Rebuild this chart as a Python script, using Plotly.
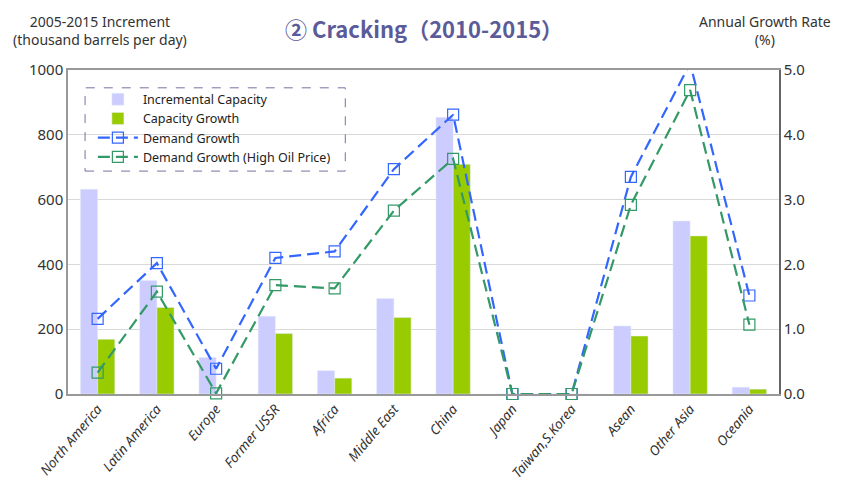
import plotly.graph_objects as go

regions = ["North America", "Latin America", "Europe", "Former USSR", "Africa",
           "Middle East", "China", "Japan", "Taiwan,S.Korea", "Asean",
           "Other Asia", "Oceania"]
incremental_capacity = [632, 350, 113, 240, 72, 295, 854, 0, 0, 210, 534, 21]
capacity_growth = [169, 267, 0, 187, 49, 236, 709, 0, 0, 179, 488, 15]
demand_growth = [1.16, 2.02, 0.39, 2.10, 2.20, 3.47, 4.31, 0.0, 0.0, 3.35, 5.10, 1.52]
demand_growth_high = [0.33, 1.58, 0.01, 1.68, 1.63, 2.83, 3.63, 0.0, 0.0, 2.92, 4.69, 1.07]

font = "Noto Sans"

fig = go.Figure()
fig.add_bar(x=regions, y=incremental_capacity, name="Incremental Capacity",
            marker_color="#CCCCFF")
fig.add_bar(x=regions, y=capacity_growth, name="Capacity Growth",
            marker_color="#99CC00")
fig.add_scatter(x=regions, y=demand_growth, name="Demand Growth", yaxis="y2",
                mode="lines+markers", cliponaxis=False,
                line=dict(color="#3366FF", width=2.2, dash="12px,6px"),
                marker=dict(symbol="square-open", size=11, color="#3366FF",
                            line=dict(width=1.2)))
fig.add_scatter(x=regions, y=demand_growth_high, name="Demand Growth (High Oil Price)",
                yaxis="y2", mode="lines+markers", cliponaxis=False,
                line=dict(color="#339966", width=2.2, dash="12px,6px"),
                marker=dict(symbol="square-open", size=11, color="#339966",
                            line=dict(width=1.2)))

# page has an 8px body margin, so the figure is a bit smaller than the window
fig.update_layout(
    width=841, height=485,
    margin=dict(l=60, r=70, t=62, b=97),
    plot_bgcolor="white", paper_bgcolor="white",
    font=dict(family=font, size=14, color="#333333"),
    barmode="group", bargap=0.42, bargroupgap=0,
    showlegend=True,
    legend=dict(x=0.035, y=0.955, xanchor="left", yanchor="top",
                bgcolor="rgba(255,255,255,0)", borderwidth=0,
                font=dict(size=12.5, color="#222222"), tracegroupgap=0,
                itemwidth=40),
    xaxis=dict(range=[-0.5, len(regions) - 0.5], showline=True,
               linecolor="#999999", linewidth=1.5, mirror=True,
               tickangle=-50, ticks="",
               tickfont=dict(size=13.5, style="italic", color="#333333")),
    yaxis=dict(range=[0, 1000], dtick=200, showgrid=True, gridcolor="#D9D9D9",
               showline=True, linecolor="#999999", linewidth=1.5,
               ticks="", zeroline=False, tickfont=dict(size=15)),
    yaxis2=dict(range=[0, 5], dtick=1, tickformat=".1f", overlaying="y",
                side="right", showgrid=False, showline=True,
                linecolor="#666666", linewidth=1.5, ticks="", zeroline=False,
                tickfont=dict(size=15)),
    shapes=[dict(type="rect", xref="paper", yref="paper",
                 x0=0.024, x1=0.390, y0=0.688, y1=0.945,
                 line=dict(color="#7A6FA0", width=1, dash="dash"),
                 fillcolor="rgba(0,0,0,0)")],
    annotations=[
        dict(text="2005-2015 Increment<br>(thousand barrels per day)",
             xref="paper", yref="paper", x=0.045, y=1.186, xanchor="center",
             yanchor="top", showarrow=False, font=dict(size=14, color="#333333")),
        dict(text="<b>② Cracking（2010-2015）</b>", xref="paper", yref="paper",
             x=0.5, y=1.185, xanchor="center", yanchor="top", showarrow=False,
             font=dict(family="Noto Sans CJK JP", size=22, color="#5B5B99")),
        dict(text="Annual Growth Rate<br>(%)", xref="paper", yref="paper",
             x=0.98, y=1.186, xanchor="center", yanchor="top", showarrow=False,
             font=dict(size=14, color="#333333")),
    ],
)

fig.write_html("out.html")
